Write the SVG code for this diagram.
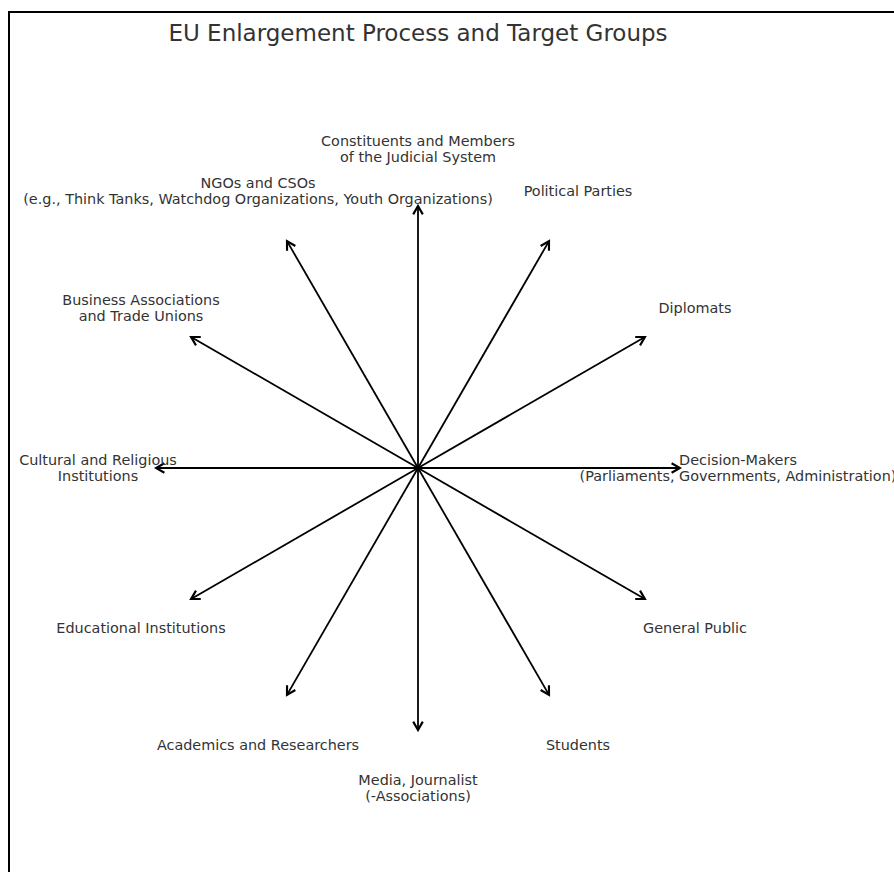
<svg xmlns="http://www.w3.org/2000/svg" width="894" height="872" viewBox="0 0 894 872">
<defs>
<marker id="ah" markerUnits="userSpaceOnUse" markerWidth="12" markerHeight="12" viewBox="-1 -1 10 10" refX="7" refY="4" orient="auto">
<path d="M0,0 L7,4 L0,8" fill="none" stroke="#000" stroke-width="1.8"/>
</marker>
<style>
.lbl{font-family:"DejaVu Sans",sans-serif;font-size:14.4px;fill:#333;text-anchor:middle}
.title{font-family:"DejaVu Sans",sans-serif;font-size:23px;fill:#333;text-anchor:middle}
.arr{stroke:#000;stroke-width:1.8;fill:none;marker-end:url(#ah)}
</style>
</defs>
<rect x="0" y="0" width="894" height="872" fill="#fff"/>
<rect x="9" y="12" width="900" height="900" fill="none" stroke="#000" stroke-width="2"/>
<text class="title" x="418" y="41">EU Enlargement Process and Target Groups</text>
<g id="connectors">
<line class="arr" x1="418" y1="468" x2="418" y2="206"/>
<line class="arr" x1="418" y1="468" x2="549" y2="241.1"/>
<line class="arr" x1="418" y1="468" x2="644.9" y2="337"/>
<line class="arr" x1="418" y1="468" x2="680" y2="468"/>
<line class="arr" x1="418" y1="468" x2="644.9" y2="599"/>
<line class="arr" x1="418" y1="468" x2="549" y2="694.9"/>
<line class="arr" x1="418" y1="468" x2="418" y2="730"/>
<line class="arr" x1="418" y1="468" x2="287" y2="694.9"/>
<line class="arr" x1="418" y1="468" x2="191.1" y2="599"/>
<line class="arr" x1="418" y1="468" x2="156" y2="468"/>
<line class="arr" x1="418" y1="468" x2="191.1" y2="337"/>
<line class="arr" x1="418" y1="468" x2="287" y2="241.1"/>
</g>
<g id="judicial"><text class="lbl" x="418" y="146">Constituents and Members</text><text class="lbl" x="418" y="162">of the Judicial System</text></g>
<g id="parties"><text class="lbl" x="578" y="196">Political Parties</text></g>
<g id="diplomats"><text class="lbl" x="695" y="313">Diplomats</text></g>
<g id="decision"><text class="lbl" x="738" y="465">Decision-Makers</text><text class="lbl" x="738" y="481">(Parliaments, Governments, Administration)</text></g>
<g id="public"><text class="lbl" x="695" y="633">General Public</text></g>
<g id="students"><text class="lbl" x="578" y="750">Students</text></g>
<g id="media"><text class="lbl" x="418" y="785">Media, Journalist</text><text class="lbl" x="418" y="801">(-Associations)</text></g>
<g id="academics"><text class="lbl" x="258" y="750">Academics and Researchers</text></g>
<g id="education"><text class="lbl" x="141" y="633">Educational Institutions</text></g>
<g id="cultural"><text class="lbl" x="98" y="465">Cultural and Religious</text><text class="lbl" x="98" y="481">Institutions</text></g>
<g id="business"><text class="lbl" x="141" y="305">Business Associations</text><text class="lbl" x="141" y="321">and Trade Unions</text></g>
<g id="ngos"><text class="lbl" x="258" y="188">NGOs and CSOs</text><text class="lbl" x="258" y="204">(e.g., Think Tanks, Watchdog Organizations, Youth Organizations)</text></g>
</svg>
